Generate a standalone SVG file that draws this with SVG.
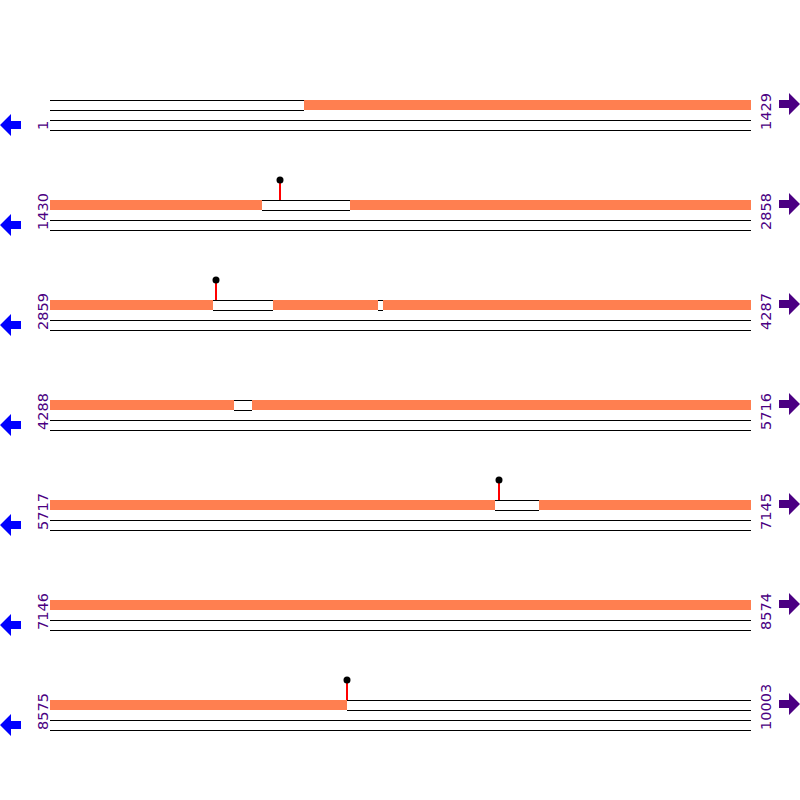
<svg xmlns="http://www.w3.org/2000/svg" width="800" height="800" viewBox="0 0 800 800">
<style>
.bar{fill:#FF7F50}
.ln{stroke:#000;stroke-width:1;shape-rendering:crispEdges}
.lbl{font-family:"DejaVu Sans",sans-serif;font-size:14.5px;fill:#4B0082}
.la{fill:#0000FF}
.ra{fill:#4B0082}
.stem{stroke:#FF0000;stroke-width:1.5;shape-rendering:crispEdges}
.dot{fill:#000}
</style>
<defs>
<path id="larr" d="M0,0 L11,-11 L11,-4 L21,-4 L21,4 L11,4 L11,11 Z"/>
<path id="rarr" d="M0,0 L-11,-11 L-11,-4 L-21,-4 L-21,4 L-11,4 L-11,11 Z"/>
</defs>
<rect width="800" height="800" fill="#fff"/>
<g id="row0">
<line class="ln" x1="50" y1="100" x2="304" y2="100"/><line class="ln" x1="50" y1="110" x2="304" y2="110"/>
<rect class="bar" x="304" y="100" width="447" height="10"/>
<line class="ln" x1="50" y1="120" x2="751" y2="120"/><line class="ln" x1="50" y1="130" x2="751" y2="130"/>
<text class="lbl" transform="translate(48,130) rotate(-90)">1</text>
<text class="lbl" transform="translate(771,130) rotate(-90)">1429</text>
<use href="#larr" class="la" x="0" y="125"/><use href="#rarr" class="ra" x="800" y="104"/>
</g>
<g id="row1">
<rect class="bar" x="50" y="200" width="212" height="10"/>
<line class="ln" x1="262" y1="200" x2="350" y2="200"/><line class="ln" x1="262" y1="210" x2="350" y2="210"/>
<rect class="bar" x="350" y="200" width="401" height="10"/>
<line class="ln" x1="50" y1="220" x2="751" y2="220"/><line class="ln" x1="50" y1="230" x2="751" y2="230"/>
<line class="stem" x1="280" y1="181" x2="280" y2="200"/><circle class="dot" cx="280" cy="180" r="3.5"/>
<text class="lbl" transform="translate(48,230) rotate(-90)">1430</text>
<text class="lbl" transform="translate(771,230) rotate(-90)">2858</text>
<use href="#larr" class="la" x="0" y="225"/><use href="#rarr" class="ra" x="800" y="204"/>
</g>
<g id="row2">
<rect class="bar" x="50" y="300" width="163" height="10"/>
<line class="ln" x1="213" y1="300" x2="273" y2="300"/><line class="ln" x1="213" y1="310" x2="273" y2="310"/>
<rect class="bar" x="273" y="300" width="105" height="10"/>
<line class="ln" x1="378" y1="300" x2="383" y2="300"/><line class="ln" x1="378" y1="310" x2="383" y2="310"/>
<rect class="bar" x="383" y="300" width="368" height="10"/>
<line class="ln" x1="50" y1="320" x2="751" y2="320"/><line class="ln" x1="50" y1="330" x2="751" y2="330"/>
<line class="stem" x1="216" y1="281" x2="216" y2="300"/><circle class="dot" cx="216" cy="280" r="3.5"/>
<text class="lbl" transform="translate(48,330) rotate(-90)">2859</text>
<text class="lbl" transform="translate(771,330) rotate(-90)">4287</text>
<use href="#larr" class="la" x="0" y="325"/><use href="#rarr" class="ra" x="800" y="304"/>
</g>
<g id="row3">
<rect class="bar" x="50" y="400" width="184" height="10"/>
<line class="ln" x1="234" y1="400" x2="252" y2="400"/><line class="ln" x1="234" y1="410" x2="252" y2="410"/>
<rect class="bar" x="252" y="400" width="499" height="10"/>
<line class="ln" x1="50" y1="420" x2="751" y2="420"/><line class="ln" x1="50" y1="430" x2="751" y2="430"/>
<text class="lbl" transform="translate(48,430) rotate(-90)">4288</text>
<text class="lbl" transform="translate(771,430) rotate(-90)">5716</text>
<use href="#larr" class="la" x="0" y="425"/><use href="#rarr" class="ra" x="800" y="404"/>
</g>
<g id="row4">
<rect class="bar" x="50" y="500" width="445" height="10"/>
<line class="ln" x1="495" y1="500" x2="539" y2="500"/><line class="ln" x1="495" y1="510" x2="539" y2="510"/>
<rect class="bar" x="539" y="500" width="212" height="10"/>
<line class="ln" x1="50" y1="520" x2="751" y2="520"/><line class="ln" x1="50" y1="530" x2="751" y2="530"/>
<line class="stem" x1="499" y1="481" x2="499" y2="500"/><circle class="dot" cx="499" cy="480" r="3.5"/>
<text class="lbl" transform="translate(48,530) rotate(-90)">5717</text>
<text class="lbl" transform="translate(771,530) rotate(-90)">7145</text>
<use href="#larr" class="la" x="0" y="525"/><use href="#rarr" class="ra" x="800" y="504"/>
</g>
<g id="row5">
<rect class="bar" x="50" y="600" width="701" height="10"/>
<line class="ln" x1="50" y1="620" x2="751" y2="620"/><line class="ln" x1="50" y1="630" x2="751" y2="630"/>
<text class="lbl" transform="translate(48,630) rotate(-90)">7146</text>
<text class="lbl" transform="translate(771,630) rotate(-90)">8574</text>
<use href="#larr" class="la" x="0" y="625"/><use href="#rarr" class="ra" x="800" y="604"/>
</g>
<g id="row6">
<rect class="bar" x="50" y="700" width="297" height="10"/>
<line class="ln" x1="347" y1="700" x2="751" y2="700"/><line class="ln" x1="347" y1="710" x2="751" y2="710"/>
<line class="ln" x1="50" y1="720" x2="751" y2="720"/><line class="ln" x1="50" y1="730" x2="751" y2="730"/>
<line class="stem" x1="347" y1="681" x2="347" y2="700"/><circle class="dot" cx="347" cy="680" r="3.5"/>
<text class="lbl" transform="translate(48,730) rotate(-90)">8575</text>
<text class="lbl" transform="translate(771,730) rotate(-90)">10003</text>
<use href="#larr" class="la" x="0" y="725"/><use href="#rarr" class="ra" x="800" y="704"/>
</g>
</svg>
